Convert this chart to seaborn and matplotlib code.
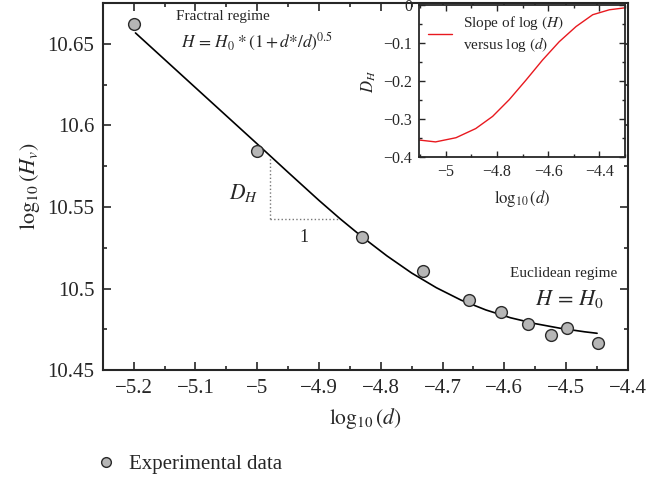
import numpy as np
import pandas as pd
import matplotlib
matplotlib.use("Agg")
import matplotlib.pyplot as plt
from matplotlib.ticker import MultipleLocator, FuncFormatter
from matplotlib.lines import Line2D
import seaborn as sns

# Experimental data (log10 d, log10 Hv)
exp_x = [-5.20, -5.00, -4.83, -4.731, -4.658, -4.606, -4.562, -4.525, -4.498, -4.449]
exp_y = [10.662, 10.584, 10.5314, 10.5107, 10.493, 10.4856, 10.4784, 10.4713, 10.4758, 10.4668]

# Fitted curve
fit_x = [-5.197, -5.10, -5.00, -4.95, -4.90, -4.866, -4.83, -4.79, -4.75, -4.71,
         -4.67, -4.63, -4.59, -4.55, -4.51, -4.47, -4.45]
fit_y = [10.6566, 10.6231, 10.5886, 10.5712, 10.5540, 10.5428, 10.5316, 10.5200, 10.5095, 10.5005,
         10.4929, 10.4869, 10.4821, 10.4785, 10.4757, 10.4735, 10.4726]

# Inset: slope of log(H) versus log(d)
slope_x = [-5.105, -5.04, -4.96, -4.883, -4.817, -4.752, -4.687, -4.622, -4.557, -4.491, -4.426, -4.361, -4.313, -4.302]
slope_y = [-0.355, -0.360, -0.349, -0.325, -0.293, -0.249, -0.198, -0.145, -0.097, -0.057, -0.026, -0.013, -0.009, -0.008]

sns.set_style("ticks")
plt.rcParams['font.family'] = ['Liberation Serif', 'DejaVu Serif']
plt.rcParams['mathtext.fontset'] = 'stix'
plt.rcParams['axes.unicode_minus'] = True

def fmt(v, pos):
    s = f"{v:g}"
    return s.replace('-', '\u2212')

fig = plt.figure(figsize=(6.67, 4.82), dpi=100)
ax = fig.add_axes([0.154, 0.232, 0.7875, 0.762])

df_fit = pd.DataFrame({'x': fit_x, 'y': fit_y})
df_exp = pd.DataFrame({'x': exp_x, 'y': exp_y})
sns.lineplot(data=df_fit, x='x', y='y', ax=ax, color='black', linewidth=1.2, sort=False)
sns.scatterplot(data=df_exp, x='x', y='y', ax=ax, color='#b6b6b6', edgecolor='#2a2a2a',
                linewidth=1.0, s=72, zorder=5)

ax.set_xlim(-5.25, -4.4)
ax.set_ylim(10.45, 10.675)
ax.xaxis.set_major_locator(MultipleLocator(0.1))
ax.xaxis.set_minor_locator(MultipleLocator(0.05))
ax.yaxis.set_major_locator(MultipleLocator(0.05))
ax.yaxis.set_minor_locator(MultipleLocator(0.025))
ax.xaxis.set_major_formatter(FuncFormatter(fmt))
ax.yaxis.set_major_formatter(FuncFormatter(fmt))
ax.tick_params(which='both', direction='in', top=True, right=True, labelsize=15, width=1.2)
ax.tick_params(which='major', length=6, pad=6)
ax.tick_params(which='minor', length=3)
for sp in ax.spines.values():
    sp.set_linewidth(1.5)
ax.set_xlabel(r'$\log_{10}(d)$', fontsize=15.5, labelpad=6)
ax.set_ylabel(r'$\log_{10}(H_v)$', fontsize=16, labelpad=4)

# slope triangle
ax.plot([-4.979, -4.979], [10.5426, 10.5807], ls=':', color='#777777', lw=1.0)
ax.plot([-4.979, -4.866], [10.5426, 10.5426], ls=':', color='#777777', lw=1.0)
ax.text(-5.022, 10.5586, r'$D_H$', fontsize=15.5, ha='center', va='center')
ax.text(-4.925, 10.531, '1', fontsize=13, ha='center', va='center')

ax.text(-5.132, 10.6668, 'Fractral regime', fontsize=11, ha='left', va='center')
ax.text(-5.124, 10.6512, r'$H\,=\,H_0\;{*}\,(1+d{*}/d)^{0.5}$', fontsize=12.5, ha='left', va='center')
ax.text(-4.591, 10.5095, 'Euclidean regime', fontsize=11, ha='left', va='center')
ax.text(-4.55, 10.4935, r'$H\,=\,H_0$', fontsize=16, ha='left', va='center')

# inset
axi = fig.add_axes([0.628, 0.674, 0.309, 0.316])
df_s = pd.DataFrame({'x': slope_x, 'y': slope_y})
sns.lineplot(data=df_s, x='x', y='y', ax=axi, color='#e8191f', linewidth=1.0, sort=False)
axi.set_xlim(-5.105, -4.3)
axi.set_ylim(-0.4, 0)
axi.xaxis.set_major_locator(MultipleLocator(0.2))
axi.xaxis.set_minor_locator(MultipleLocator(0.1))
axi.yaxis.set_major_locator(MultipleLocator(0.1))
axi.yaxis.set_minor_locator(MultipleLocator(0.05))
axi.xaxis.set_major_formatter(FuncFormatter(fmt))
axi.yaxis.set_major_formatter(FuncFormatter(fmt))
axi.tick_params(which='both', direction='in', top=True, right=True, labelsize=11.5, width=1.0)
axi.tick_params(which='major', length=4, pad=5)
axi.tick_params(which='minor', length=2)
for sp in axi.spines.values():
    sp.set_linewidth(1.3)
axi.set_xlabel(r'$\log_{10}(d)$', fontsize=12, labelpad=6)
axi.set_ylabel(r'$D_H$', fontsize=12)
leg_h = [Line2D([0], [0], color='#e8191f', lw=1.0)]
axi.legend(leg_h, ['Slope of log $(H)$\nversus log $(d)$'], loc='upper left', frameon=False,
           fontsize=11, handlelength=1.6, borderaxespad=0.2, handletextpad=0.7, labelspacing=0.2)

# bottom legend
h = [Line2D([0], [0], marker='o', ls='none', markerfacecolor='#b6b6b6', markeredgecolor='#2a2a2a',
            markersize=7)]
fig.legend(h, ['Experimental data'], loc='center left', bbox_to_anchor=(0.10, 0.036),
           frameon=False, fontsize=15, handletextpad=0.1)

fig.savefig('out.png', dpi=100)
